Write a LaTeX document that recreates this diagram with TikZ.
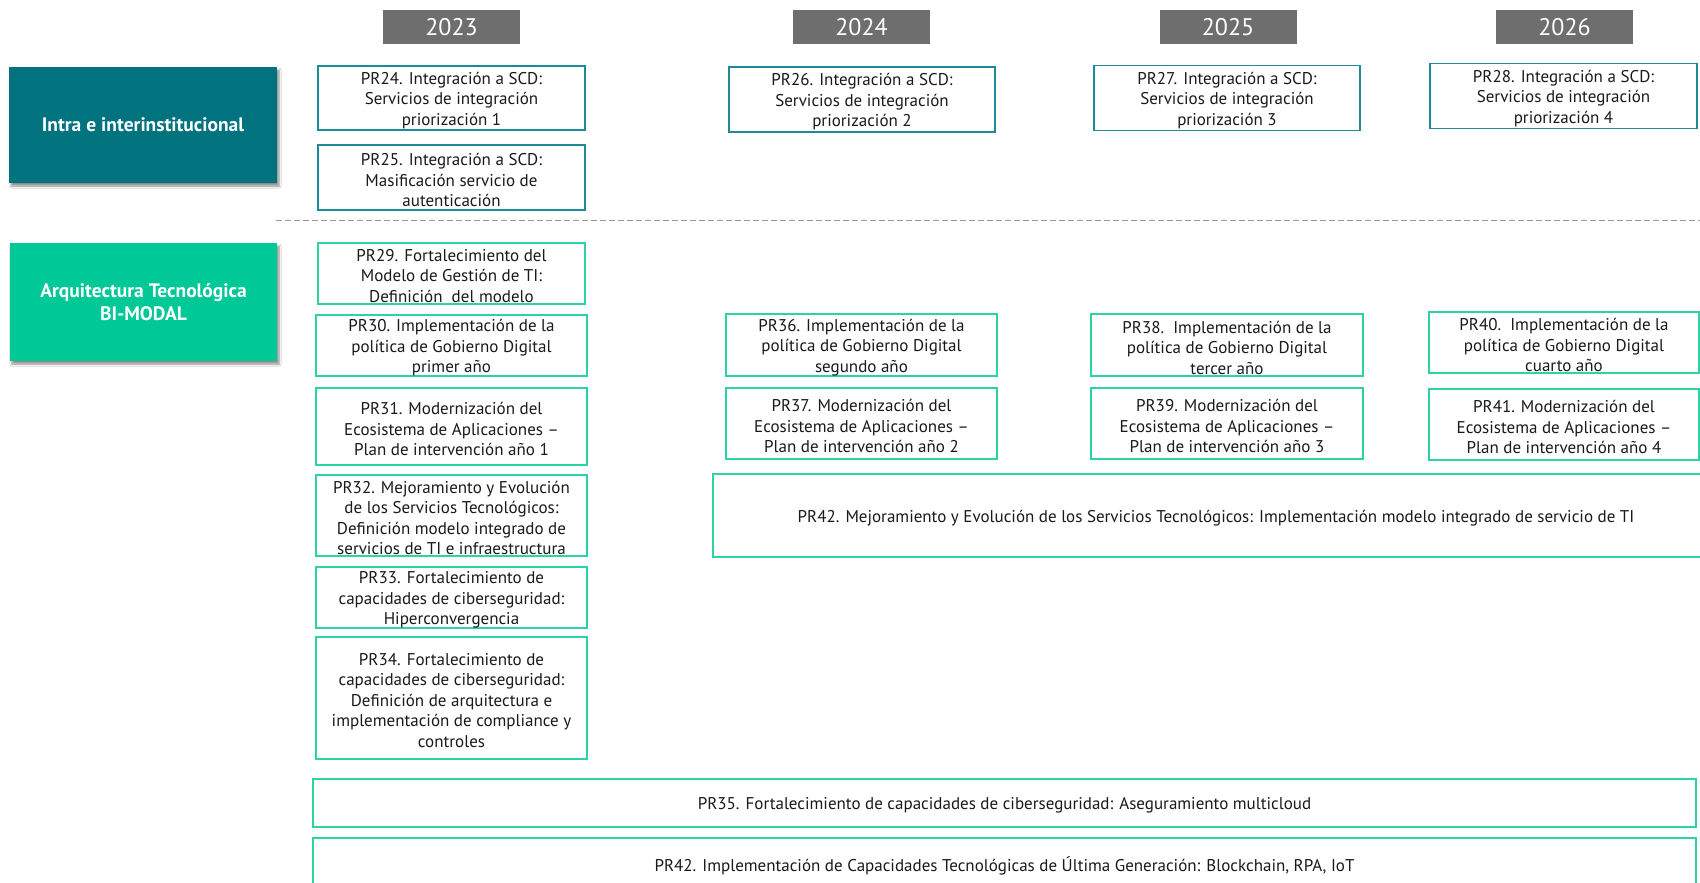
\documentclass[tikz,border=0pt]{standalone}
\usepackage{fontspec}
\setmainfont{PT Sans}
\usetikzlibrary{shadows.blur}
\definecolor{intrafill}{HTML}{00737F}
\definecolor{arqfill}{HTML}{00C897}
\definecolor{tealline}{HTML}{1E8A97}
\definecolor{greenline}{HTML}{2DD3A5}
\definecolor{yeargrey}{HTML}{6E6E6E}
\definecolor{txt}{HTML}{1A1A1A}
\tikzset{
  boxbase/.style={rectangle, draw, line width=1.8pt, fill=white, inner sep=0pt},
  tbox/.style={boxbase, draw=tealline},
  gbox/.style={boxbase, draw=greenline},
  boxtext/.style={inner sep=0pt, align=center, text=txt, font=\fontsize{17}{20.5}\selectfont},
  yearbox/.style={rectangle, fill=yeargrey, text=white, inner sep=0pt,
    minimum width=137pt, minimum height=34pt, font=\fontsize{24}{26}\selectfont},
  catbox/.style={rectangle, inner sep=0pt, text=white, align=center,
    font=\bfseries\fontsize{19.5}{23}\selectfont,
    blur shadow={shadow xshift=2pt, shadow yshift=-3pt, shadow blur steps=6, shadow opacity=45}},
  sepline/.style={draw=gray!80, line width=0.9pt, dash pattern=on 6pt off 3pt}
}
% #1 style, #2 name, #3 width, #4 height, #5 centre, #6 text
\newcommand{\prbox}[6]{%
  \node[#1, minimum width=#3, minimum height=#4] (#2) at #5 {};
  \node[boxtext] (#2-t) at ([yshift=-2.5pt]#2.center) {#6};}
\begin{document}
\begin{tikzpicture}[x=1pt, y=-1pt]
\clip (0,0) rectangle (1700,883);
\fill[white] (0,0) rectangle (1700,883);

% year headers
\node[yearbox] (y23) at (451.5,27) {2023};
\node[yearbox] (y24) at (861.5,27) {2024};
\node[yearbox] (y25) at (1228,27) {2025};
\node[yearbox] (y26) at (1564.5,27) {2026};

% category labels
\node[catbox, fill=intrafill, minimum width=268pt, minimum height=116pt] (intra) at (143,125) {Intra e interinstitucional};
\node[catbox, fill=arqfill, minimum width=267pt, minimum height=118pt] (arq) at (143.5,302) {Arquitectura Tecnológica\\BI-MODAL};

% intra row
\prbox{tbox}{pr24}{267pt}{64pt}{(451.5,98)}{PR24. Integración a SCD:\\Servicios de integración\\priorización 1}
\prbox{tbox}{pr25}{267pt}{65pt}{(451.5,177.5)}{PR25. Integración a SCD:\\Masificación servicio de\\autenticación}
\prbox{tbox}{pr26}{266pt}{65pt}{(862,99.5)}{PR26. Integración a SCD:\\Servicios de integración\\priorización 2}
\prbox{tbox}{pr27}{266pt}{65pt}{(1227,98)}{PR27. Integración a SCD:\\Servicios de integración\\priorización 3}
\prbox{tbox}{pr28}{267pt}{65pt}{(1563.5,96)}{PR28. Integración a SCD:\\Servicios de integración\\priorización 4}

% separator
\coordinate (sepL) at (276,220);
\coordinate (sepR) at (1700,220);
\draw[sepline] (sepL) -- (sepR);

% arquitectura rows
\prbox{gbox}{pr29}{267pt}{61pt}{(451.5,273.5)}{PR29. Fortalecimiento del\\Modelo de Gestión de TI:\\Definición\ \ del modelo}
\prbox{gbox}{pr30}{271pt}{61pt}{(451.5,345.5)}{PR30. Implementación de la\\política de Gobierno Digital\\primer año}
\prbox{gbox}{pr31}{271pt}{77pt}{(451.5,426.5)}{PR31. Modernización del\\Ecosistema de Aplicaciones –\\Plan de intervención año 1}
\prbox{gbox}{pr32}{271pt}{81pt}{(451.5,515.5)}{PR32. Mejoramiento y Evolución\\de los Servicios Tecnológicos:\\Definición modelo integrado de\\servicios de TI e infraestructura}
\prbox{gbox}{pr33}{271pt}{61pt}{(451.5,597.5)}{PR33. Fortalecimiento de\\capacidades de ciberseguridad:\\Hiperconvergencia}
\prbox{gbox}{pr34}{271pt}{122pt}{(451.5,698)}{PR34. Fortalecimiento de\\capacidades de ciberseguridad:\\Definición de arquitectura e\\implementación de compliance y\\controles}

\prbox{gbox}{pr36}{271pt}{62pt}{(861.5,345)}{PR36. Implementación de la\\política de Gobierno Digital\\segundo año}
\prbox{gbox}{pr37}{271pt}{71pt}{(861.5,423.5)}{PR37. Modernización del\\Ecosistema de Aplicaciones –\\Plan de intervención año 2}
\prbox{gbox}{pr38}{272pt}{62pt}{(1227,345)}{PR38.\ \ Implementación de la\\política de Gobierno Digital\\tercer año}
\prbox{gbox}{pr39}{272pt}{71pt}{(1227,423.5)}{PR39. Modernización del\\Ecosistema de Aplicaciones –\\Plan de intervención año 3}
\prbox{gbox}{pr40}{270pt}{61pt}{(1564,342.5)}{PR40.\ \ Implementación de la\\política de Gobierno Digital\\cuarto año}
\prbox{gbox}{pr41}{270pt}{71pt}{(1564,424.5)}{PR41. Modernización del\\Ecosistema de Aplicaciones –\\Plan de intervención año 4}

\prbox{gbox}{pr42a}{1006pt}{83pt}{(1216,515.5)}{PR42. Mejoramiento y Evolución de los Servicios Tecnológicos: Implementación modelo integrado de servicio de TI}
\prbox{gbox}{pr35}{1383pt}{48pt}{(1004.5,803)}{PR35. Fortalecimiento de capacidades de ciberseguridad: Aseguramiento multicloud}
\prbox{gbox}{pr42b}{1383pt}{50pt}{(1004.5,863)}{PR42. Implementación de Capacidades Tecnológicas de Última Generación: Blockchain, RPA, IoT}
\end{tikzpicture}
\end{document}
